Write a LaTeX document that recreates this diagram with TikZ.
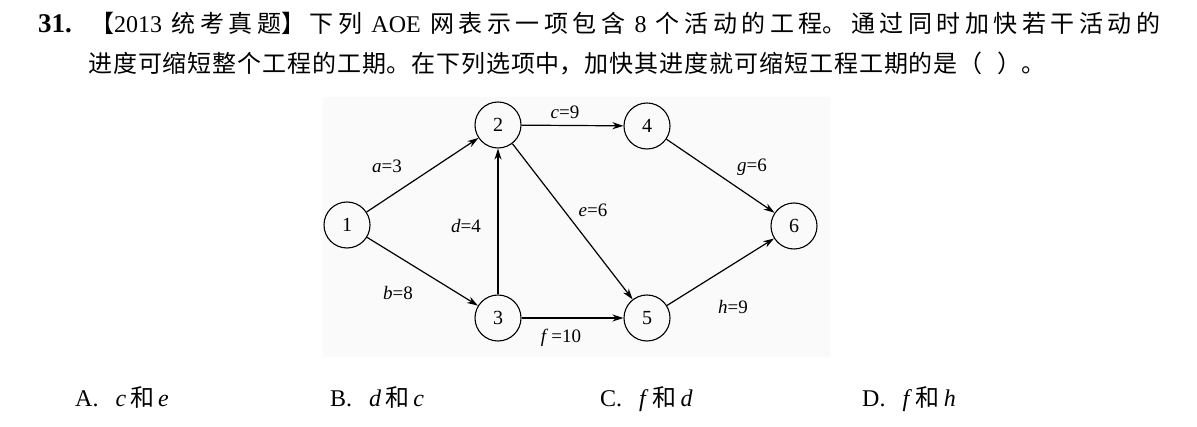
\documentclass[tikz,border=0pt]{standalone}
\usepackage{fontspec}
\setmainfont{Liberation Serif}
\newfontfamily\cjk{Noto Sans CJK SC}
\usetikzlibrary{arrows.meta}
\hbadness=10000
\newcommand\jline[2]{\parbox[b]{#1}{\tolerance=10000\XeTeXlinebreaklocale "zh"\XeTeXlinebreakskip=0pt plus 4pt\relax #2\parfillskip=0pt\par}}
\begin{document}
\begin{tikzpicture}[x=1pt,y=-1pt,
  vtx/.style={circle,draw,line width=1.1pt,minimum size=46pt,inner sep=0pt,font=\fontsize{20}{20}\selectfont},
  edg/.style={line width=1.2pt,-{Stealth[length=11pt,width=7pt]}},
  lbl/.style={inner sep=0pt,font=\fontsize{19}{19}\selectfont},
  txt/.style={inner sep=0pt,anchor=base west,font=\fontsize{24}{28}\selectfont}]
\useasboundingbox (0,0) rectangle (1197,427);
\fill[black!2] (323,97) rectangle (830,357);
% text
\node[txt] (l1) at (38,33) {\jline{1122pt}{{\fontsize{27}{28}\selectfont\textbf{31.}} {\cjk 【}2013 {\cjk 统考真题】下列} AOE {\cjk 网表示一项包含} 8 {\cjk 个活动的工程。通过同时加快若干活动的}}};
\node[txt] (l2) at (88,73) {\jline{957pt}{\cjk 进度可缩短整个工程的工期。在下列选项中，加快其进度就可缩短工程工期的是（\hspace{0.6em}）。}};
% graph
\node[vtx] (n1) at (347,225) {1};
\node[vtx] (n2) at (498,125) {2};
\node[vtx] (n3) at (498,318) {3};
\node[vtx] (n4) at (647,126) {4};
\node[vtx] (n5) at (647,318) {5};
\node[vtx] (n6) at (794,226) {6};
\draw[edg] (n1) -- (n2);
\draw[edg] (n1) -- (n3);
\draw[edg] (n2) -- (n4);
\draw[edg] (n3) -- (n2);
\draw[edg] (n2) -- (n5);
\draw[edg] (n3) -- (n5);
\draw[edg] (n4) -- (n6);
\draw[edg] (n5) -- (n6);
\node[lbl] (la) at (387,166) {\textit{a}=3};
\node[lbl] (lb) at (398,293) {\textit{b}=8};
\node[lbl] (lc) at (565,112) {\textit{c}=9};
\node[lbl] (ld) at (466,226) {\textit{d}=4};
\node[lbl] (le) at (593,210) {\textit{e}=6};
\node[lbl] (lf) at (561,338) {\textit{f}\,=10};
\node[lbl] (lg) at (752,167) {\textit{g}=6};
\node[lbl] (lh) at (733,307) {\textit{h}=9};
% options
\node[txt] (oa) at (75,407) {A.\hspace{17pt}\textit{c}\,{\cjk 和}\,\textit{e}};
\node[txt] (ob) at (330,407) {B.\hspace{17pt}\textit{d}\,{\cjk 和}\,\textit{c}};
\node[txt] (oc) at (600,407) {C.\hspace{17pt}\textit{f}\,{\cjk 和}\,\textit{d}};
\node[txt] (od) at (862,407) {D.\hspace{17pt}\textit{f}\,{\cjk 和}\,\textit{h}};
\end{tikzpicture}
\end{document}
